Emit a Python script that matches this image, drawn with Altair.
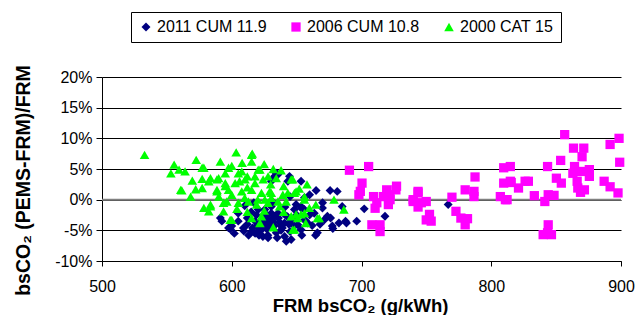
import altair as alt
import pandas as pd

series_names = ["2011 CUM 11.9", "2006 CUM 10.8", "2000 CAT 15"]
series_colors = ["#000080", "#FF00FF", "#00FF00"]
series_shapes = ["diamond", "square", "triangle-up"]
series_sizes = [80, 92, 120]

x_ticks = [500, 600, 700, 800, 900]
y_ticks = [-10, -5, 0, 5, 10, 15, 20]
zero_line = [0]

# 2011 CUM 11.9 (navy diamonds)
navy_x = [591.2, 592.4, 597.5, 598.8, 600, 609, 609.3, 615.3, 621, 622.9, 627.8, 625.5,
          633.1, 638.1, 635.6, 643.2, 653.4, 644.5, 634.3, 625.5, 630.5, 626.7, 622.9, 628,
          631.8, 635.6, 640.7, 619.1, 634.3, 640.7, 642, 650.9, 653.4, 656, 653.4, 656,
          649.6, 620.4, 630.5, 633, 630.5, 663.6, 653.4, 648.3, 657.2, 630.5, 621.7, 640.7,
          648.3, 669.9, 673.7, 656, 664.6, 677.9, 688.4, 696.3, 675.8, 681.3, 702.1, 718.1,
          687.7, 682.6, 676.2, 677.5, 671.2, 685.1, 666, 658.5, 645.8, 766.8,
          612, 615, 618, 612, 605, 617, 624, 629, 636, 638, 643, 645, 646, 650, 660, 662,
          668, 605, 632, 641, 610, 645, 660, 665, 670, 635, 618, 624, 654, 628, 602, 613,
          616, 621, 627, 633, 639, 644, 619, 626, 637, 648]
navy_y = [-3.0, -3.5, -4.6, -4.8, -4.3, -4.6, -5.1, -5.2, -5.8, -4.9, -5.8, -3.8,
          -2.7, -4.3, 4.1, 3.0, 3.0, 3.8, 4.3, -1.6, -1.1, -2.7, -3.3, -3.3,
          -3.5, -2.2, -2.4, -4.3, -5.4, -6.0, -6.8, -4.1, -4.9, -3.3, -1.1, -1.6,
          -0.8, -1.6, 3.0, 3.8, -3.3, -2.2, -1.35, -1.6, -3.5, -2.2, -3.8, -3.8,
          -4.3, -1.35, -2.7, 0.3, -5.8, -4.7, -3.8, -3.5, 1.5, 1.35, -1.5, -2.7,
          -3.5, -3.8, -3.0, -4.3, -3.3, -1.1, -5.4, -3.8, -6.5, -0.8,
          -3.0, -2.0, -3.5, -4.0, -3.5, -0.5, -4.5, -4.3, -3.0, -5.0, -2.8, -5.2, -3.5, -2.5, -2.5, -4.2,
          -4.0, -2.2, -0.5, -1.2, -1.0, 0.5, 0.8, 1.5, -0.5, -6.2, -5.5, -6.0, -5.8, -6.2, -5.5, -5.8,
          -4.6, -5.0, -4.8, -4.2, -4.6, -4.0, -2.5, -2.3, -3.7, -3.2]

# 2006 CUM 10.8 (magenta squares)
magenta_x = [690.7, 705.5, 700.4, 699.1, 698, 709.3, 716.9, 719.4, 722, 727, 726.5, 711.8,
             710.5, 720.7, 708, 714.3, 714.3, 722, 739.8, 743.6, 743.6, 739.8, 746.1, 749.9,
             743.6, 752.4, 753.7, 749.9, 769.7, 787.5, 779.9, 786.7, 786.7, 772.8, 776.6, 781.7,
             779.9, 809.6, 814.7, 809.6, 815.4, 807, 810.9, 856.6, 863.4, 871.3, 870, 853.5,
             843.4, 864.2, 862.9, 869.3, 875.6, 875.6, 866.2, 850.2, 854, 866.7, 871.8, 868.8,
             887, 891.6, 897.7, 891.6, 898.5, 899, 843.9, 848.4, 841.3, 833.2, 843.9, 843.4,
             840, 846.4, 814.7, 821, 826.1, 828.6, 812.2]
magenta_y = [4.8, 5.4, 2.7, 1.35, 0.8, 0.5, 0.5, 1.6, 0.8, 2.2, 1.6, -0.5,
             -1.4, -0.8, -4.1, -5.2, -4.1, 0.0, 0.0, 1.1, 1.35, -0.3, -0.5, -0.3,
             -1.2, -2.4, -3.5, -3.3, 0.4, 3.7, 1.6, 1.35, 0.5, -1.9, -3.0, -3.1,
             -4.1, 5.2, 5.4, 2.7, 2.8, 0.5, 0.0, 10.6, 8.4, 8.4, 7.0, 6.4,
             5.4, 5.4, 4.3, 4.6, 4.9, 3.8, 3.0, 3.5, 2.7, 1.9, 1.6, 1.2,
             3.0, 2.1, 1.1, 9.0, 10.0, 6.1, 0.8, 0.7, -0.3, 0.65, -4.1, -5.4,
             -5.7, -5.7, 3.0, 1.9, 3.0, 3.0, 0.0]

# 2000 CAT 15 (green triangles)
green_x = [532.8, 555.6, 559.4, 553.1, 564, 572.6, 578.5, 569.6, 577.2, 583.6, 591.2, 588.6,
           561.5, 572.2, 568.3, 577.2, 588.6, 578.5, 583.6, 582.3, 593.7, 593.7, 595, 595,
           603.4, 615.3, 615.3, 597.5, 605.1, 620.4, 577.2, 582.3, 589.9, 595, 602.6, 610.2,
           617.9, 624.2, 628, 634.3, 645.8, 588.6, 597.5, 607.7, 615.3, 622.9, 630.5, 639.4,
           648.3, 656, 583.6, 596.2, 605.1, 612.8, 619.1, 628, 636.9, 641.9, 600, 615.3,
           621.7, 645.8, 650.9, 647, 647, 649.6, 664.8, 659.8, 667.4, 678.8, 686.4, 648.3,
           649.6, 656, 560.7, 598.8, 615.8, 607.7, 617.9, 621.7, 629.3, 643.2, 630.5, 625.5,
           635.6, 656, 653.4, 622.9, 666,
           600, 608, 612, 625, 632, 638, 600, 610, 620, 640, 652, 658, 612, 630, 604, 612,
           625, 640, 632, 657, 606, 590]
green_y = [7.3, 5.7, 4.9, 4.3, 4.6, 6.5, 5.2, 3.1, 3.4, 3.5, 6.2, 3.3,
           1.5, 1.7, 0.5, 1.9, 1.6, -1.35, -0.8, -1.9, -0.5, -1.9, 4.3, 2.2,
           7.7, 7.3, 6.2, 5.2, 4.3, 4.9, 5.2, 3.0, 3.5, 2.7, 2.7, 3.3,
           2.7, 3.3, 3.8, 3.5, 3.3, 1.35, 1.6, 1.35, 1.6, 1.1, 1.1, 0.8,
           1.1, 0.5, -1.1, -0.3, -0.5, -0.3, -0.8, -0.5, -1.1, -0.3, -3.3, -3.0,
           -3.8, -2.7, -3.0, -4.9, 3.3, 1.35, -0.8, -1.35, -3.0, 0.0, -1.6, -4.9,
           -2.4, -2.2, 1.6, -3.3, 7.5, 4.6, 3.8, 4.9, 1.35, 1.1, 0.3, 0.0,
           -0.3, 0.0, -2.4, -2.7, -3.0,
           5.5, 6.0, 3.8, 5.8, 5.0, 4.8, 0.8, 0.3, 0.0, 2.2, 1.8, 2.5, 2.0, 2.5, -1.5, -2.0,
           -1.8, -2.0, -4.5, -3.8, 3.0, 0.5]

rows = []
for name, xs, ys in zip(series_names, [navy_x, magenta_x, green_x], [navy_y, magenta_y, green_y]):
    for xv, yv in zip(xs, ys):
        rows.append({"series": name, "frm": xv, "dev": yv, "ord": len(rows)})
df = pd.DataFrame(rows)

font = "Liberation Sans"

y_scale = alt.Scale(domain=[-10, 20], nice=False, zero=False)
y_axis = alt.Axis(values=y_ticks, labelExpr="datum.value + '%'", grid=True,
                  labelOverlap=False, title="bsCO₂ (PEMS-FRM)/FRM", tickSize=6,
                  labelPadding=4, titleFontSize=19.5, titleAngle=270, titleX=-79,
                  titleY=103, titleAlign="center", titleBaseline="middle")

zero_rule = alt.Chart(pd.DataFrame({"dev": zero_line})).mark_rule(
    color="#808080", strokeWidth=2
).encode(y=alt.Y("dev:Q", scale=y_scale, axis=y_axis))

points = alt.Chart(df).mark_point(filled=True, opacity=1, strokeWidth=0).encode(
    x=alt.X("frm:Q",
            scale=alt.Scale(domain=[500, 900], nice=False, zero=False),
            axis=alt.Axis(values=x_ticks, grid=False, title="FRM bsCO₂ (g/kWh)",
                          tickSize=5, labelPadding=12, labelFlush=False, labelOverlap=False,
                          titleFontSize=18.5, titleX=258, titleY=44, titleAlign="center",
                          titleBaseline="middle")),
    y=alt.Y("dev:Q", scale=y_scale, axis=y_axis),
    color=alt.Color("series:N",
                    scale=alt.Scale(domain=series_names, range=series_colors),
                    legend=alt.Legend(title=None, orient="none", legendX=29, legendY=-65,
                                      direction="horizontal", strokeColor="black",
                                      padding=7, columnPadding=21, labelOffset=3,
                                      labelFont=font, labelFontSize=16, labelColor="black",
                                      symbolStrokeWidth=0, symbolOpacity=1)),
    shape=alt.Shape("series:N", scale=alt.Scale(domain=series_names, range=series_shapes)),
    size=alt.Size("series:N", scale=alt.Scale(domain=series_names, range=series_sizes)),
    order=alt.Order("ord:Q"),
)

chart = alt.layer(zero_rule, points).properties(
    width=519, height=184, autosize="none",
    padding={"left": 94, "top": 69, "right": 14, "bottom": 54},
).configure_view(stroke=None).configure_axis(
    labelFont=font, labelFontSize=16, labelColor="black",
    titleFont=font, titleFontWeight="bold", titleColor="black",
    domainColor="black", tickColor="black", gridColor="black",
    gridWidth=1, domainWidth=1, tickWidth=1,
)

chart.save("out.html", embed_options={"renderer": "svg", "actions": False})
